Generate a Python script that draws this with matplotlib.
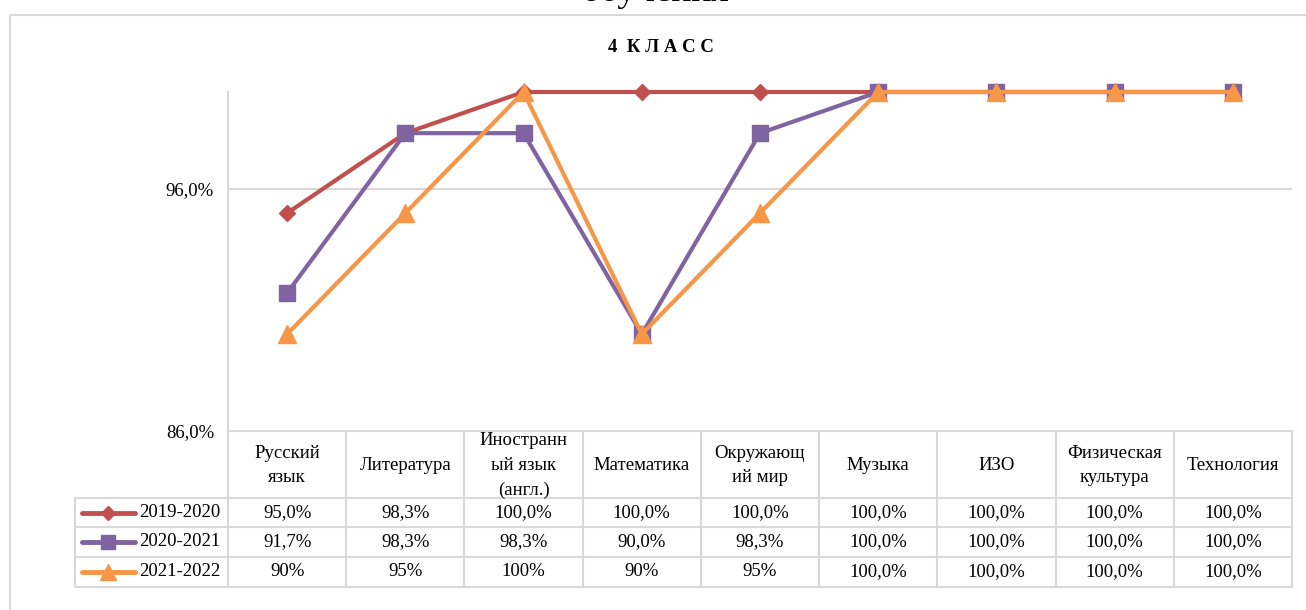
import numpy as np
import matplotlib
matplotlib.use('Agg')
from matplotlib import pyplot as plt

plt.rcParams['font.family'] = ['Liberation Serif', 'DejaVu Serif']

# данные
subjects = ['Русский\nязык', 'Литература', 'Иностранн\nый язык\n(англ.)', 'Математика',
            'Окружающ\nий мир', 'Музыка', 'ИЗО', 'Физическая\nкультура', 'Технология']
years = ['2019-2020', '2020-2021', '2021-2022']
v2019 = [95.0, 98.3, 100.0, 100.0, 100.0, 100.0, 100.0, 100.0, 100.0]
v2020 = [91.7, 98.3, 98.3, 90.0, 98.3, 100.0, 100.0, 100.0, 100.0]
v2021 = [90.0, 95.0, 100.0, 90.0, 95.0, 100.0, 100.0, 100.0, 100.0]
labels2019 = ['95,0%', '98,3%', '100,0%', '100,0%', '100,0%', '100,0%', '100,0%', '100,0%', '100,0%']
labels2020 = ['91,7%', '98,3%', '98,3%', '90,0%', '98,3%', '100,0%', '100,0%', '100,0%', '100,0%']
labels2021 = ['90%', '95%', '100%', '90%', '95%', '100,0%', '100,0%', '100,0%', '100,0%']
yticks = [86, 96]

colors = ['#c0504d', '#8064a2', '#f79646']
markers = ['D', 's', '^']
msizes = [8, 12, 13]

W, H = 1306, 610
fig = plt.figure(figsize=(W / 100, H / 100), dpi=100)

# пиксельная подложка для рамки и таблицы
bg = fig.add_axes([0, 0, 1, 1])
bg.set_xlim(0, W)
bg.set_ylim(H, 0)
bg.axis('off')
grey = '#d9d9d9'
bg.plot([10, 10, W + 5], [H + 5, 15, 15], color=grey, lw=1.5)

fig.text(661 / W, 1 - 48 / H, '4  К Л А С С', ha='center', va='center', fontsize=13.5, fontweight='bold')
fig.text(655 / W, 1 + 9 / H, 'обучения', ha='center', va='center', fontsize=27)

x0, x1 = 228, 1292
y_top, y_bot = 92, 431
ax = fig.add_axes([x0 / W, 1 - y_bot / H, (x1 - x0) / W, (y_bot - y_top) / H])
x = np.arange(len(subjects))
for vals, c, m, ms in zip([v2019, v2020, v2021], colors, markers, msizes):
    ax.plot(x, vals, color=c, lw=3, marker=m, markersize=ms, clip_on=False, zorder=3)
ax.set_xlim(-0.5, len(subjects) - 0.5)
ax.set_ylim(86, 100)
ax.set_yticks(yticks)
ax.set_yticklabels([('%.1f%%' % t).replace('.', ',') for t in yticks])
ax.yaxis.set_tick_params(length=0, pad=10, labelsize=13.5)
ax.set_xticks([])
ax.grid(axis='y', color=grey, lw=1.5)
for s in ['top', 'right', 'bottom']:
    ax.spines[s].set_visible(False)
ax.spines['left'].set_color(grey)
ax.spines['left'].set_linewidth(1.5)

# таблица данных
cw = (x1 - x0) / len(subjects)
rows = [431, 498, 527, 557, 587]
lx = 75
for r in rows:
    bg.plot([x0 if r == 431 else lx, x1], [r, r], color=grey, lw=1.5)
bg.plot([lx, lx], [rows[1], rows[-1]], color=grey, lw=1.5)
for i in range(len(subjects) + 1):
    bg.plot([x0 + i * cw] * 2, [rows[0], rows[-1]], color=grey, lw=1.5)
for i, s in enumerate(subjects):
    cx = x0 + (i + 0.5) * cw
    bg.text(cx, (rows[0] + rows[1]) / 2 + 1, s, ha='center', va='center', fontsize=13.5, linespacing=1.6)
for j, (lab, c, m, ms) in enumerate(zip([labels2019, labels2020, labels2021], colors, markers, msizes)):
    cy = (rows[j + 1] + rows[j + 2]) / 2
    bg.plot([82, 135], [cy, cy], color=c, lw=3.5, solid_capstyle='round')
    bg.plot([108], [cy], color=c, marker=m, markersize=ms * 0.85)
    bg.text(139, cy, years[j], ha='left', va='center', fontsize=13.5)
    for i, t in enumerate(lab):
        bg.text(x0 + (i + 0.5) * cw, cy, t, ha='center', va='center', fontsize=13.5)

fig.savefig('out.png', dpi=100)
